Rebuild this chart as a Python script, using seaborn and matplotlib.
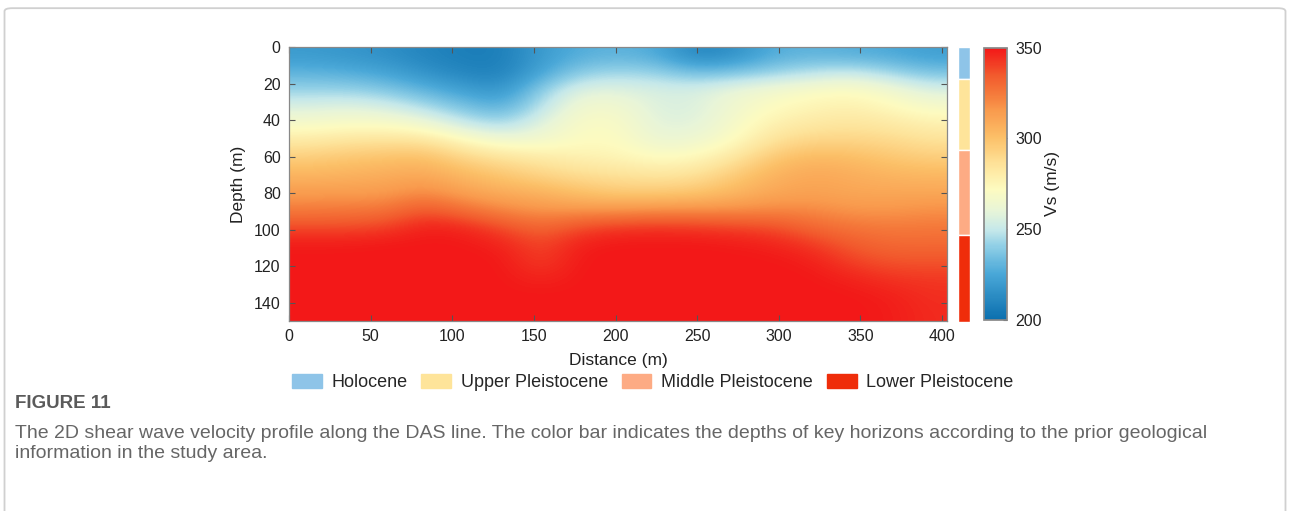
import numpy as np
import matplotlib
matplotlib.use("Agg")
import matplotlib.pyplot as plt
from matplotlib.colors import LinearSegmentedColormap
from matplotlib.patches import Patch, FancyBboxPatch
import seaborn as sns

# distance nodes (m) and depth nodes (m) of the Vs grid
distance = [0, 25, 50, 75, 100, 125, 150, 175, 200, 225, 250, 275, 300, 325, 350, 375, 400]
depth = [0, 10, 20, 30, 40, 50, 60, 70, 80, 90, 100, 110, 120, 130, 140, 150]

# shear wave velocity (m/s), one row per depth node
vs = [
    [220, 218, 215, 210, 207, 207, 220, 228, 230, 227, 210, 215, 228, 230, 228, 226, 222],
    [230, 228, 224, 216, 210, 208, 224, 240, 244, 242, 234, 237, 242, 248, 252, 244, 236],
    [242, 242, 238, 230, 222, 216, 240, 258, 258, 255, 255, 262, 266, 270, 272, 266, 256],
    [256, 258, 255, 246, 236, 228, 248, 266, 266, 256, 256, 265, 272, 276, 278, 274, 268],
    [268, 270, 270, 265, 252, 244, 258, 270, 270, 258, 258, 268, 278, 282, 284, 282, 278],
    [282, 285, 286, 286, 275, 266, 266, 272, 272, 262, 264, 272, 286, 292, 292, 290, 286],
    [295, 298, 300, 302, 292, 286, 282, 278, 276, 272, 274, 284, 298, 304, 302, 298, 295],
    [305, 306, 308, 310, 304, 298, 292, 288, 286, 284, 286, 296, 306, 310, 308, 305, 304],
    [314, 314, 314, 320, 312, 308, 306, 300, 296, 296, 298, 304, 310, 312, 310, 310, 310],
    [324, 325, 326, 336, 328, 320, 316, 316, 316, 318, 318, 318, 320, 320, 316, 316, 318],
    [338, 338, 340, 348, 346, 338, 330, 338, 342, 343, 342, 340, 338, 330, 326, 324, 325],
    [349, 349, 350, 350, 350, 347, 338, 348, 350, 350, 350, 349, 347, 342, 334, 330, 330],
    [350, 350, 350, 350, 350, 350, 340, 350, 350, 350, 350, 350, 350, 348, 340, 336, 336],
    [350, 350, 350, 350, 350, 350, 346, 350, 350, 350, 350, 350, 350, 350, 347, 343, 342],
    [350, 350, 350, 350, 350, 350, 350, 350, 350, 350, 350, 350, 350, 350, 350, 348, 344],
    [350, 350, 350, 350, 350, 350, 350, 350, 350, 350, 350, 350, 350, 350, 350, 349, 345],
]

# geological horizons (depth ranges, m)
units = ["Holocene", "Upper Pleistocene", "Middle Pleistocene", "Lower Pleistocene"]
unit_top = [0, 17.6, 56.2, 102.8]
unit_bottom = [17.6, 56.2, 102.8, 150]
unit_colors = ["#8ec4e8", "#fee49a", "#fdab84", "#ef2d0a"]

vs_min, vs_max = 200, 350
x_max = 403

caption_title = "FIGURE 11"
caption_lines = [
    "The 2D shear wave velocity profile along the DAS line. The color bar indicates the depths of key horizons according to the prior geological",
    "information in the study area.",
]

sns.set_theme(style="ticks")
plt.rcParams["font.family"] = ["Liberation Sans", "DejaVu Sans"]

cmap = LinearSegmentedColormap.from_list("vs", [
    (0.00, "#0b6fae"), (0.17, "#4aa8d8"), (0.27, "#90cfe6"), (0.33, "#c5e8ea"),
    (0.40, "#e8f5d8"), (0.48, "#fdfbc0"), (0.57, "#fee39a"), (0.67, "#fcc068"),
    (0.77, "#f99a4d"), (0.83, "#f57a3b"), (0.90, "#f25a2d"), (0.96, "#f23020"),
    (1.00, "#f31818"),
])

fig = plt.figure(figsize=(12.9, 5.11), dpi=100)

# outer frame
fig.patches.append(FancyBboxPatch((0.0035, -0.05), 0.993, 1.034, boxstyle="round,pad=0,rounding_size=0.006",
                                  transform=fig.transFigure, fill=False, ec="#d0d0d0", lw=1.3))

ax = fig.add_axes([0.2240, 0.3718, 0.5101, 0.5362])
arr = np.array(vs, dtype=float)
im = ax.imshow(arr, cmap=cmap, vmin=vs_min, vmax=vs_max, aspect="auto", interpolation="bicubic",
               extent=(distance[0], x_max, depth[-1], depth[0]))
ax.set_xlim(0, x_max)
ax.set_ylim(depth[-1], 0)
ax.set_xticks(range(0, 401, 50))
ax.set_yticks(range(0, 141, 20))
ax.tick_params(direction="in", top=True, right=True, length=4, width=0.8, color="#555555",
               labelsize=11.5, labelcolor="#222222", pad=6)
for s in ax.spines.values():
    s.set_color("#888888")
    s.set_linewidth(0.9)
ax.set_xlabel("Distance (m)", fontsize=12.5, color="#222222", labelpad=6)
ax.set_ylabel("Depth (m)", fontsize=12.5, color="#222222", labelpad=6)

# geological column
gax = fig.add_axes([0.7426, 0.3700, 0.0093, 0.5380])
gax.bar([0] * len(units), [b - t for t, b in zip(unit_top, unit_bottom)], bottom=unit_top,
        color=unit_colors, width=1.0)
gax.set_xlim(-0.5, 0.5)
gax.set_ylim(150, 0)
gax.axis("off")

# colorbar
cax = fig.add_axes([0.7628, 0.3740, 0.0178, 0.5330])
cb = fig.colorbar(im, cax=cax)
cb.set_ticks([200, 250, 300, 350])
cb.ax.tick_params(direction="in", length=3, width=0.8, color="#555555", labelsize=11.5,
                  labelcolor="#222222", pad=6)
cb.outline.set_edgecolor("#888888")
cb.set_label("Vs (m/s)", fontsize=12.5, color="#222222", labelpad=2)

handles = [Patch(facecolor=c, edgecolor=c, label=u) for u, c in zip(units, unit_colors)]
fig.legend(handles=handles, loc="center", bbox_to_anchor=(0.506, 0.252), ncol=4, frameon=False,
           fontsize=13, handlelength=1.65, handleheight=0.85, columnspacing=0.75, handletextpad=0.55)

fig.text(0.0116, 1 - 403 / 511, caption_title, fontsize=13.5, fontweight="bold", color="#5a5a5a",
         va="center")
for i, line in enumerate(caption_lines):
    fig.text(0.0116, 1 - (433 + 20 * i) / 511, line, fontsize=14, color="#666666", va="center")

fig.savefig("out.png", dpi=100)
